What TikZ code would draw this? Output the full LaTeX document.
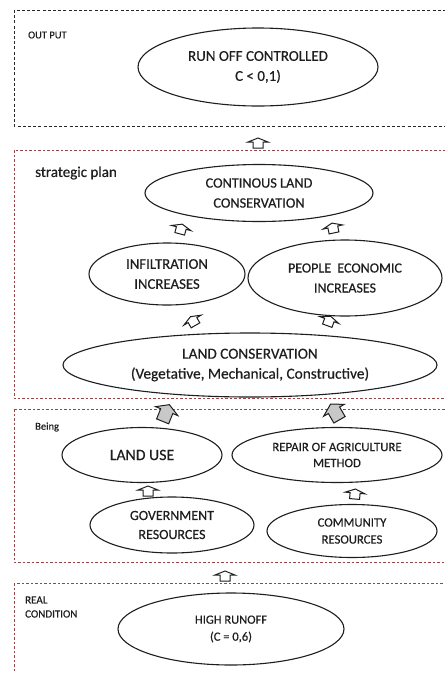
\documentclass[tikz,border=0pt]{standalone}
\usepackage{fontspec}
\setmainfont{Carlito}[FakeBold=0.4]
\usetikzlibrary{shapes.geometric}
\definecolor{boxred}{RGB}{150,70,70}
\definecolor{inkc}{RGB}{30,30,30}
\definecolor{greyfill}{RGB}{200,200,200}
\newcommand{\fs}[2]{\fontsize{#1}{#2}\selectfont}
\tikzset{
  oval/.style={ellipse, draw=inkc, line width=1.1pt, inner sep=0pt, align=center, text=inkc},
  outbox/.style={draw=black!85, line width=1pt, dash pattern=on 3pt off 2.2pt},
  redbox/.style={draw=boxred, line width=0.8pt, dash pattern=on 2.5pt off 2pt},
  lbl/.style={anchor=west, inner sep=0pt, text=inkc, align=left},
  blockarrow/.pic={\draw[pic actions] (-5,5) -- (-5,-1) -- (-10,-1) -- (0,-5) -- (10,-1) -- (5,-1) -- (5,5) -- cycle;},
  bigarrow/.pic={\draw[pic actions] (-6.5,9) -- (-6.5,-2) -- (-12,-2) -- (0,-9) -- (12,-2) -- (6.5,-2) -- (6.5,9) -- cycle;},
  warr/.style={draw=inkc, fill=white, line width=1pt},
  garr/.style={draw=inkc, fill=greyfill, line width=1pt}
}
\begin{document}
\begin{tikzpicture}[x=1pt,y=-1pt]
\useasboundingbox (0,0) rectangle (445,673);
\fill[white] (0,0) rectangle (445,673);
% boxes
\draw[outbox] (14,10) rectangle (452,126);
\draw[redbox] (14,150) rectangle (452,398);
\draw[redbox] (14,409) rectangle (452,562);
\draw[redbox] (14,583) rectangle (452,690);
% labels
\node[lbl, font=\fs{10.5}{12}] (lout) at (28,35) {OUT PUT};
\node[lbl, font=\fs{15}{17}] (lsp) at (35,173) {strategic plan};
\node[lbl, font=\fs{10.5}{12}] (lbe) at (35,427) {Being};
\node[lbl, font=\fs{11}{14}] (lrc) at (25,607) {REAL\\CONDITION};
% ellipses
\node[oval, minimum width=240pt, minimum height=78pt, font=\fs{15}{20}] (roc) at (258,67) {RUN OFF CONTROLLED\\C < 0,1)};
\node[oval, minimum width=228pt, minimum height=57pt, font=\fs{14.3}{20}] (clc) at (259,193) {CONTINOUS LAND\\CONSERVATION};
\node[oval, minimum width=156pt, minimum height=62pt, font=\fs{14.8}{20}] (inf) at (167,274) {INFILTRATION\\INCREASES};
\node[oval, minimum width=194pt, minimum height=76pt, font=\fs{14}{20}] (pei) at (345,278) {PEOPLE\ \ ECONOMIC\\INCREASES};
\node[oval, minimum width=374pt, minimum height=64pt, font=\fs{15.3}{20}] (lc) at (250,365) {LAND CONSERVATION\\(Vegetative, Mechanical, Constructive)};
\node[oval, minimum width=160pt, minimum height=55pt, font=\fs{15.8}{16}] (lu) at (142,455) {LAND USE};
\node[oval, minimum width=210pt, minimum height=55pt, font=\fs{12.8}{16}] (ram) at (337,455) {REPAIR OF AGRICULTURE\\METHOD};
\node[oval, minimum width=164pt, minimum height=56pt, font=\fs{14}{19}] (gr) at (172,525) {GOVERNMENT\\RESOURCES};
\node[oval, minimum width=170pt, minimum height=53pt, font=\fs{12.7}{17}] (cr) at (352,531) {COMMUNITY\\RESOURCES};
\node[oval, minimum width=226pt, minimum height=72pt, font=\fs{12.5}{17}] (hr) at (231,629) {HIGH RUNOFF\\(C = 0,6)};
% block arrows (connectors)
\pic[warr] at (258,143) {blockarrow};
\pic[warr, rotate=-15] at (181,229) {blockarrow};
\pic[warr, rotate=12] at (333,228) {blockarrow};
\pic[warr, rotate=30] at (193,321) {blockarrow};
\pic[warr, rotate=-20] at (329,321) {blockarrow};
\pic[garr, rotate=-22] at (166,413) {bigarrow};
\pic[garr, rotate=30] at (335,412) {bigarrow};
\pic[warr] at (148,491) {blockarrow};
\pic[warr, rotate=-5] at (355,494) {blockarrow};
\pic[warr] at (225,576) {blockarrow};
\end{tikzpicture}
\end{document}
